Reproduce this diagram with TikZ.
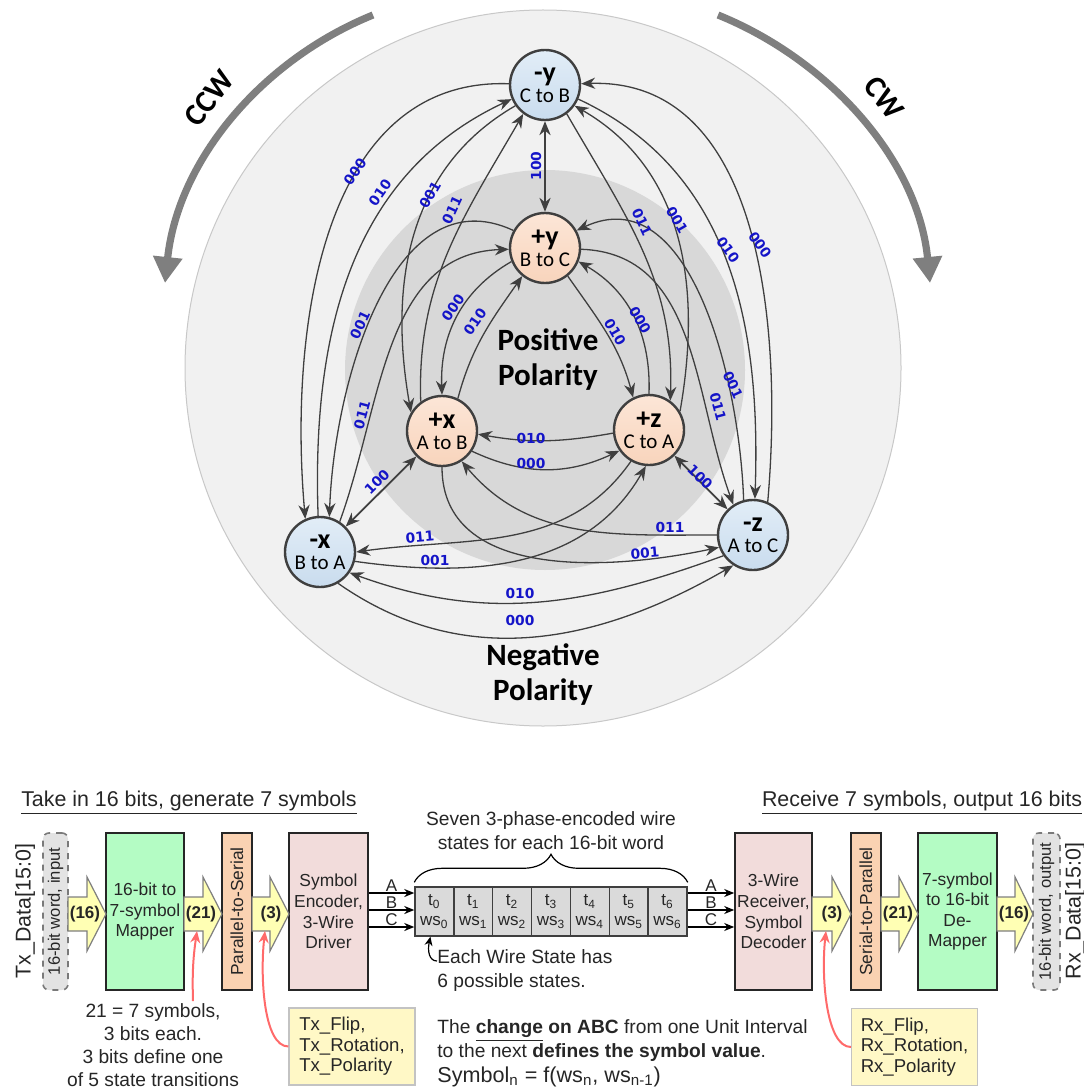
\documentclass[tikz,border=0pt]{standalone}
\usepackage{fontspec}
\setmainfont{Liberation Sans}
\newfontfamily\calfont{Carlito}
\newfontfamily\codefont{DejaVu Sans}
\usetikzlibrary{arrows.meta,decorations.pathreplacing}

\definecolor{edgegray}{HTML}{3F3F3F}
\definecolor{negtop}{HTML}{E2EDF7}
\definecolor{negbottom}{HTML}{C9DCEE}
\definecolor{postop}{HTML}{FCE6D7}
\definecolor{posbottom}{HTML}{F8D4BC}
\definecolor{outerbg}{HTML}{F1F1F1}
\definecolor{ringgray}{HTML}{C8C8C8}
\definecolor{innerbg}{HTML}{D8D8D8}
\definecolor{codeblue}{HTML}{1414C8}
\definecolor{turngray}{HTML}{7F7F7F}
\definecolor{mapgreen}{HTML}{B4FCC4}
\definecolor{serorange}{HTML}{FAD2B2}
\definecolor{drvpink}{HTML}{F2DCDB}
\definecolor{busyellow}{HTML}{FFFFB4}
\definecolor{busgray}{HTML}{7F7F7F}
\definecolor{cellgray}{HTML}{DADADA}
\definecolor{portfill}{HTML}{E3E3E3}
\definecolor{portgray}{HTML}{7A7A7A}
\definecolor{noteyellow}{HTML}{FFF8C6}
\definecolor{notegray}{HTML}{C3C3C3}
\definecolor{hintred}{HTML}{FF6A6A}
\definecolor{textgray}{HTML}{262626}

\begin{document}
\begin{tikzpicture}[x=0.5pt, y=0.5pt, >={Stealth[length=7pt,width=5.6pt]},
    state/.style={circle, draw=edgegray, line width=1.2pt, minimum size=35pt, inner sep=0pt, align=center, font=\calfont\fontsize{10.5}{10.5}\selectfont},
    negstate/.style={state, top color=negtop, bottom color=negbottom},
    posstate/.style={state, top color=postop, bottom color=posbottom},
    trans/.style={->, draw=edgegray, line width=0.65pt},
    code/.style={text=codeblue, font=\codefont\bfseries\fontsize{6.9}{7}\selectfont, inner sep=0pt},
    polar/.style={font=\calfont\bfseries\fontsize{15.5}{17.5}\selectfont, align=center, inner sep=0pt},
    turn/.style={draw=turngray, line width=3.6pt, -{Triangle[length=13pt,width=14pt]}},
    turnlbl/.style={font=\calfont\bfseries\fontsize{15.5}{16}\selectfont, inner sep=0pt},
    block/.style={draw=black!85, line width=0.8pt, minimum height=78.5pt, inner sep=0pt, align=center, text=textgray, font=\fontsize{8.7}{10.3}\selectfont},
    port/.style={draw=portgray, dashed, fill=portfill, rounded corners=3pt, line width=0.8pt, minimum width=12.5pt, minimum height=78.5pt, inner sep=0pt, text=textgray, font=\fontsize{8.3}{9}\selectfont},
    bus/.style={draw=busgray, fill=busyellow, line width=0.6pt},
    buslbl/.style={font=\bfseries\fontsize{8.5}{9}\selectfont, inner sep=0pt, text=textgray},
    cell/.style={draw=edgegray, fill=cellgray, line width=0.7pt, minimum width=19.43pt, minimum height=24.5pt, inner sep=0pt, align=center, text=textgray, font=\fontsize{8.5}{10}\selectfont},
    wire/.style={-{Stealth[length=5pt,width=4pt]}, line width=0.75pt},
    wirelbl/.style={above, inner sep=0.3pt, text=textgray, font=\fontsize{8.5}{9}\selectfont},
    note/.style={draw=notegray, fill=noteyellow, line width=0.6pt, minimum width=63pt, minimum height=38.5pt, inner sep=2pt, align=left, text=textgray, font=\fontsize{9.3}{10.25}\selectfont},
    hint/.style={-{Stealth[length=6pt,width=5pt]}, draw=hintred, line width=1pt},
    txt/.style={inner sep=0pt, text=textgray, font=\fontsize{9.6}{12}\selectfont},
    title/.style={inner sep=0pt, text=textgray, font=\fontsize{10.7}{12}\selectfont}
  ]

  \useasboundingbox (0,0) rectangle (1083,-1091);

  % Polarity discs
  \filldraw[fill=outerbg, draw=ringgray, line width=0.5pt] (543,-368) circle (179pt);
  \fill[innerbg] (545,-370) circle (100pt);

  % Rotation sense arrows
  \draw[turn] (373,-15) .. controls (262,-60) and (178,-160) .. (165,-283);
  \draw[turn] (718,-15) .. controls (829,-60) and (918,-160) .. (930,-283);
  \node[turnlbl, rotate=52] (ccw) at (209,-98) {CCW};
  \node[turnlbl, rotate=-52] (cw) at (884,-98) {CW};

  \node[polar] (poslbl) at (548,-360) {Positive\\Polarity};
  \node[polar] (neglbl) at (543,-675) {Negative\\Polarity};

  % Wire states
  \node[negstate] (my) at (545,-85) {{\bfseries\fontsize{14}{14}\selectfont -y}\\C to B};
  \node[posstate] (py) at (545,-248) {{\bfseries\fontsize{14}{14}\selectfont +y}\\B to C};
  \node[posstate] (px) at (442,-431) {{\bfseries\fontsize{14}{14}\selectfont +x}\\A to B};
  \node[posstate] (pz) at (649,-430) {{\bfseries\fontsize{14}{14}\selectfont +z}\\C to A};
  \node[negstate] (mx) at (320,-552) {{\bfseries\fontsize{14}{14}\selectfont -x}\\B to A};
  \node[negstate] (mz) at (753,-535) {{\bfseries\fontsize{14}{14}\selectfont -z}\\A to C};

  % Flips (100)
  \draw[<->, draw=edgegray, line width=0.9pt] (my) -- (py);
  \draw[<->, draw=edgegray, line width=0.9pt] (mx) -- (px);
  \draw[<->, draw=edgegray, line width=0.9pt] (mz) -- (pz);

  % Negative ring
  \draw[trans] (my.178) to[out=178,in=95] (mx.114);   % 000
  \draw[trans] (mx.93) to[out=92,in=205] (my.203);    % 010
  \draw[trans] (my.337) to[out=-25,in=88] (mz.87);    % 010
  \draw[trans] (mz.66) to[out=85,in=2] (my.2);        % 000
  \draw[trans] (mz.215) to[out=200,in=-20] (mx.325);  % 010
  \draw[trans] (mx.300) to[out=-35,in=210] (mz.237);  % 000

  % Positive ring
  \draw[trans] (py.202) to[out=210,in=92] (px.90);    % 000
  \draw[trans] (px.64) to[out=75,in=235] (py.231);    % 010
  \draw[trans] (py.309) to[out=-55,in=105] (pz.116);  % 010
  \draw[trans] (pz.90) to[out=88,in=-30] (py.338);    % 000
  \draw[trans] (px.326) to[out=-25,in=205] (pz.215);  % 000
  \draw[trans] (pz.185) to[out=190,in=-10] (px.355);  % 010

  % Polarity changes
  \draw[trans] (my.215) to[out=210,in=100] (px.149);  % 001
  \draw[trans] (px.126) to[out=92,in=240] (my.233);   % 011
  \draw[trans] (my.307) to[out=300,in=88] (pz.54);    % 011
  \draw[trans] (pz.31) to[out=80,in=-30] (my.325);    % 001
  \draw[trans] (py.151) to[out=155,in=88] (mx.75);    % 001
  \draw[trans] (mx.57) to[out=70,in=182] (py.182);    % 011
  \draw[trans] (py.358) to[out=-2,in=110] (mz.123);   % 011
  \draw[trans] (mz.105) to[out=92,in=25] (py.29);     % 001
  \draw[trans] (mx.345) to[out=-8,in=240] (pz.265);   % 001
  \draw[trans] (pz.240) to[out=235,in=8] (mx.0);      % 011
  \draw[trans] (mz.180) to[out=180,in=-50] (px.303);  % 011
  \draw[trans] (px.270) to[out=-90,in=192] (mz.200);  % 001

  % Symbol codes
  \node[code, rotate=90] (f1) at (536,-166) {100};
  \node[code, rotate=45] (f2) at (377,-482) {100};
  \node[code, rotate=-45] (f3) at (700,-477) {100};
  \node[code, rotate=55] (l1) at (355,-172) {000};
  \node[code, rotate=55] (l2) at (380,-193) {010};
  \node[code, rotate=60] (l3) at (430,-195) {001};
  \node[code, rotate=65] (l4) at (452,-210) {011};
  \node[code, rotate=-65] (r1) at (642,-222) {011};
  \node[code, rotate=-60] (r2) at (677,-220) {001};
  \node[code, rotate=-55] (r3) at (728,-250) {010};
  \node[code, rotate=-55] (r4) at (760,-245) {000};
  \node[code, rotate=55] (i1) at (453,-308) {000};
  \node[code, rotate=55] (i2) at (475,-322) {010};
  \node[code, rotate=-60] (i3) at (615,-332) {010};
  \node[code, rotate=-60] (i4) at (640,-320) {000};
  \node[code, rotate=65] (d1) at (360,-325) {001};
  \node[code, rotate=75] (d2) at (362,-415) {011};
  \node[code, rotate=-65] (d3) at (733,-385) {001};
  \node[code, rotate=-75] (d4) at (718,-407) {011};
  \node[code] (b1) at (531,-438) {010};
  \node[code] (b2) at (531,-463) {000};
  \node[code, rotate=5] (b3) at (420,-537) {011};
  \node[code] (b4) at (435,-560) {001};
  \node[code] (b5) at (670,-527) {011};
  \node[code, rotate=5] (b6) at (645,-553) {001};
  \node[code] (b7) at (520,-593) {010};
  \node[code] (b8) at (520,-620) {000};

  % Transmit side
  \node[title] (txtitle) at (189,-803) {\underline{Take in 16 bits, generate 7 symbols}};
  \node[title, rotate=90] (txdata) at (25,-911) {Tx\_Data[15:0]};
  \node[port] (txin) at (55.5,-911.5) {\rotatebox{90}{16-bit word, input}};
  \node[block, fill=mapgreen, minimum width=39pt] (mapper) at (145,-911.5) {16-bit to\\7-symbol\\Mapper};
  \node[block, fill=serorange, minimum width=15pt] (p2s) at (237,-911.5) {\rotatebox{90}{Parallel-to-Serial}};
  \node[block, fill=drvpink, minimum width=39.5pt] (enc) at (328.5,-911.5) {Symbol\\Encoder,\\3-Wire\\Driver};

  \draw[bus] (68,-897) -- (87,-897) -- (87,-877) -- (106,-914) -- (87,-951) -- (87,-931) -- (68,-931) -- cycle;
  \node[buslbl] (tx16) at (85,-914) {(16)};
  \draw[bus] (184,-897) -- (203,-897) -- (203,-877) -- (222,-914) -- (203,-951) -- (203,-931) -- (184,-931) -- cycle;
  \node[buslbl] (tx21) at (201,-914) {(21)};
  \draw[bus] (252,-897) -- (270,-897) -- (270,-877) -- (289,-914) -- (270,-951) -- (270,-931) -- (252,-931) -- cycle;
  \node[buslbl] (tx3) at (271,-914) {(3)};

  % Wire state sequence
  \node[cell] (ws0) at (434.4,-911.5) {t\textsubscript{0}\\ws\textsubscript{0}};
  \node[cell] (ws1) at (473.3,-911.5) {t\textsubscript{1}\\ws\textsubscript{1}};
  \node[cell] (ws2) at (512.1,-911.5) {t\textsubscript{2}\\ws\textsubscript{2}};
  \node[cell] (ws3) at (551,-911.5) {t\textsubscript{3}\\ws\textsubscript{3}};
  \node[cell] (ws4) at (589.9,-911.5) {t\textsubscript{4}\\ws\textsubscript{4}};
  \node[cell] (ws5) at (628.7,-911.5) {t\textsubscript{5}\\ws\textsubscript{5}};
  \node[cell] (ws6) at (667.6,-911.5) {t\textsubscript{6}\\ws\textsubscript{6}};

  \draw[wire] ([yshift=9.25pt]enc.east) -- node[wirelbl] (ta) {A} ([yshift=9.25pt]ws0.west);
  \draw[wire] ([yshift=0.75pt]enc.east) -- node[wirelbl] (tb) {B} ([yshift=0.75pt]ws0.west);
  \draw[wire] ([yshift=-7.75pt]enc.east) -- node[wirelbl] (tc) {C} ([yshift=-7.75pt]ws0.west);

  \draw[decorate, decoration={brace, amplitude=14pt, raise=2pt}, line width=0.6pt] (ws0.north west) -- (ws6.north east);
  \node[txt, align=center] (seven) at (551,-831) {Seven 3-phase-encoded wire\\states for each 16-bit word};

  \node[txt, align=left, anchor=north west] (each) at (437,-949) {Each Wire State has\\6 possible states.};
  \draw[-{Stealth[length=4.5pt,width=4pt]}, line width=0.6pt] ([yshift=-6pt]each.north west) .. controls +(-8,0) and +(-3,-14) .. ([xshift=-2pt]ws0.south);

  % Receive side
  \node[title] (rxtitle) at (922,-803) {\underline{Receive 7 symbols, output 16 bits}};
  \node[block, fill=drvpink, minimum width=38.5pt] (rcv) at (773.5,-911.5) {3-Wire\\Receiver,\\Symbol\\Decoder};
  \node[block, fill=serorange, minimum width=15pt] (s2p) at (866,-911.5) {\rotatebox{90}{Serial-to-Parallel}};
  \node[block, fill=mapgreen, minimum width=39.5pt] (demap) at (957.5,-911.5) {7-symbol\\to 16-bit\\De-\\Mapper};
  \node[port, minimum width=13.5pt] (rxout) at (1046.5,-911.5) {\rotatebox{90}{16-bit word, output}};
  \node[title, rotate=90] (rxdata) at (1075,-911) {Rx\_Data[15:0]};

  \draw[wire] ([yshift=9.25pt]ws6.east) -- node[wirelbl] (ra) {A} ([yshift=9.25pt]rcv.west);
  \draw[wire] ([yshift=0.75pt]ws6.east) -- node[wirelbl] (rb) {B} ([yshift=0.75pt]rcv.west);
  \draw[wire] ([yshift=-7.75pt]ws6.east) -- node[wirelbl] (rc) {C} ([yshift=-7.75pt]rcv.west);

  \draw[bus] (812,-897) -- (832,-897) -- (832,-877) -- (851,-914) -- (832,-951) -- (832,-931) -- (812,-931) -- cycle;
  \node[buslbl] (rx3) at (832,-914) {(3)};
  \draw[bus] (881,-897) -- (899,-897) -- (899,-877) -- (918,-914) -- (899,-951) -- (899,-931) -- (881,-931) -- cycle;
  \node[buslbl] (rx21) at (898,-914) {(21)};
  \draw[bus] (997,-897) -- (1015,-897) -- (1015,-877) -- (1033,-914) -- (1015,-951) -- (1015,-931) -- (997,-931) -- cycle;
  \node[buslbl] (rx16) at (1014,-914) {(16)};

  % Notes
  \node[txt, align=center, font=\fontsize{9.6}{11.5}\selectfont] (note21) at (153,-1045) {21 = 7 symbols,\\3 bits each.\\3 bits define one\\of 5 state transitions};
  \node[note] (txnote) at (352,-1046.5) {Tx\_Flip,\\Tx\_Rotation,\\Tx\_Polarity};
  \node[note] (rxnote) at (914.5,-1047) {Rx\_Flip,\\Rx\_Rotation,\\Rx\_Polarity};
  \node[txt, align=left, anchor=north west] (rule) at (437,-1019) {The \underline{\textbf{change}} \textbf{on ABC} from one Unit Interval\\to the next \textbf{defines the symbol value}.\\[0.5pt]{\fontsize{10.8}{12}\selectfont Symbol\textsubscript{n} = f(ws\textsubscript{n}, ws\textsubscript{n-1})}};

  \coordinate (hint21) at (197,-931);
  \coordinate (hinttx) at (265,-931);
  \coordinate (hintrx) at (826,-931);
  \draw[hint] ([xshift=20pt,yshift=1pt]note21.north) to[bend left=5] (hint21);
  \draw[hint] (txnote.west) .. controls +(-25,0) and +(-5,-45) .. (hinttx);
  \draw[hint] (rxnote.west) .. controls +(-25,0) and +(-5,-45) .. (hintrx);

\end{tikzpicture}
\end{document}
